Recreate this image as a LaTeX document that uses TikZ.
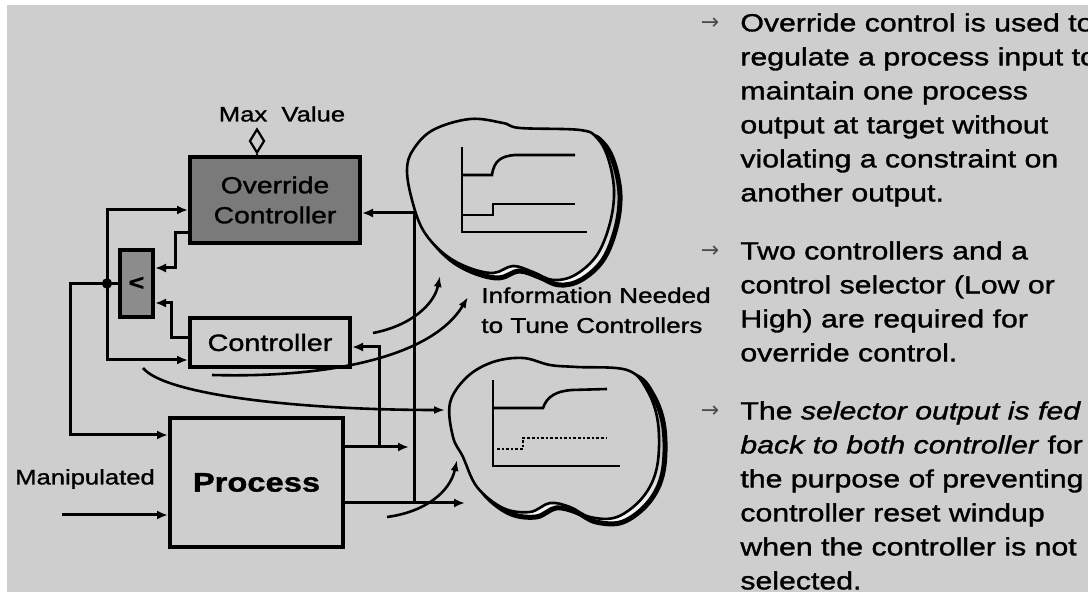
\documentclass[tikz,border=0pt]{standalone}
\usepackage{fontspec}
\setmainfont[FakeStretch=1.22,FakeBold=1.3]{Liberation Sans}
\newfontfamily\symfont{DejaVu Sans}
\usetikzlibrary{arrows.meta,calc,shapes.geometric}
\definecolor{paper}{RGB}{206,206,206}
\definecolor{boxdark}{RGB}{122,122,122}
\definecolor{boxmid}{RGB}{140,140,140}
\definecolor{shade}{RGB}{60,60,60}

% outlines of the two trend clouds
\newcommand{\cloudtop}{plot[smooth cycle,tension=0.6] coordinates {(413,150) (433,130) (470,119) (503,123) (520,128) (580,130) (597,138) (608,158) (614,190) (610,223) (597,255) (575,275) (553,280) (533,272) (513,266) (493,273) (467,267) (443,253) (423,230) (412,200) (407,170)}}
\newcommand{\cloudlow}{plot[smooth cycle,tension=0.6] coordinates {(450,403) (467,377) (493,362) (523,358) (550,365) (577,367) (627,370) (647,390) (658,423) (657,467) (643,497) (617,517) (590,517) (570,507) (550,503) (530,512) (503,508) (477,487) (463,457) (453,437)}}

\begin{document}
\begin{tikzpicture}[x=0.5pt,y=-0.5pt,
    block/.style={draw,line width=2pt,inner sep=0pt,align=center},
    flow/.style={-{Latex[length=5.5pt,width=4.5pt]},line width=1.5pt},
    wire/.style={line width=1.5pt},
    info/.style={-{Latex[length=5.5pt,width=4pt]},line width=1.3pt},
    trend/.style={line width=1.3pt},
    shadow/.style={shade,line width=2.5pt,xshift=3pt,yshift=-2.5pt},
    note/.style={anchor=north west,inner sep=0pt,align=left,font=\fontsize{12.4}{17}\selectfont},
    bullet/.style={text=black!70,font=\symfont\fontsize{11}{11}\selectfont}
  ]
  % page
  \useasboundingbox (0,0) rectangle (1088,592);
  \clip (0,0) rectangle (1088,592);
  \fill[white] (0,0) rectangle (1088,592);
  \fill[paper] (7,5) rectangle (1088,592);

  % clouds with their trends
  \filldraw[shadow] \cloudtop;
  \draw[line width=1.3pt,fill=paper] \cloudtop;
  \filldraw[shadow] \cloudlow;
  \draw[line width=1.3pt,fill=paper] \cloudlow;

  \draw[trend] (462,147) -- (462,232) -- (587,232);
  \draw[trend] (462,175) -- (492,175) .. controls (494,160) and (502,156) .. (515,155) -- (575,155);
  \draw[trend] (462,215) -- (493,215) -- (493,204) -- (575,204);

  \draw[trend] (493,380) -- (493,466) -- (620,466);
  \draw[trend] (493,408) -- (543,408) .. controls (547,396) and (557,391) .. (572,390) -- (607,389);
  \draw[trend,densely dotted] (497,449) -- (523,449) -- (523,438) -- (607,438);

  % blocks
  \node[block,fill=boxdark,minimum width=85pt,minimum height=43pt,font=\fontsize{11.6}{15}\selectfont] (ovr) at (275,200) {Override\\Controller};
  \node[block,fill=boxmid,minimum width=16.5pt,minimum height=33.5pt,font=\bfseries\fontsize{11}{11}\selectfont] (sel) at (136.5,283.5) {<};
  \node[block,minimum width=80pt,minimum height=24.5pt,font=\fontsize{11.8}{14}\selectfont] (ctrl) at (270,342.5) {Controller};
  \node[block,minimum width=86.5pt,minimum height=64.5pt,font=\bfseries\fontsize{13.4}{16}\selectfont] (proc) at (256.5,482.5) {Process};

  % labels
  \node[font=\fontsize{10.5}{12}\selectfont] (maxv) at (282,114) {Max\ \ Value};
  \node[draw,diamond,line width=1.1pt,fill=paper,inner sep=0pt,minimum width=7.5pt,minimum height=12pt] (lim) at (257,141) {};
  \draw[line width=1.1pt] (lim.south) -- (lim.south |- ovr.north);
  \node[font=\fontsize{10.5}{12}\selectfont] (manip) at (85,479) {Manipulated};
  \node[note,font=\fontsize{10.7}{15}\selectfont] (tune) at (481,287) {Information Needed\\to Tune Controllers};

  % junctions and free ends
  \coordinate (dot) at (107,283.5);
  \coordinate (feed) at (70,283.5);
  \coordinate (mv) at (62,515);
  \coordinate (t1) at ($(proc.east)+(34,-35.5)$);
  \coordinate (t2) at ($(proc.east)+(69,20.5)$);

  % selector output back to both controllers and to the process
  \draw[wire] (sel.west) -- (dot);
  \fill (dot) circle (2.6pt);
  \draw[flow] (dot) |- ($(ovr.west)+(0,10)$);
  \draw[flow] (dot) |- ($(ctrl.west)+(0,17.5)$);
  \draw[flow] (dot) -- (feed) |- ($(proc.west)+(0,-47.5)$);
  \draw[flow] (mv) -- (mv -| proc.west);

  % controller outputs into the selector
  \draw[flow] ($(ovr.west)+(0,33)$) -- ++(-13,0) |- ($(sel.east)+(0,-15.5)$);
  \draw[flow] ($(ctrl.west)+(0,-5)$) -- ++(-17,0) |- ($(sel.east)+(0,19.5)$);

  % measured outputs
  \draw[flow] ($(proc.east)+(0,-35.5)$) -- ++(64,0);
  \draw[flow] (t1) |- ($(ctrl.east)+(0,4.5)$);
  \draw[flow] ($(proc.east)+(0,20.5)$) -- ++(120,0);
  \draw[flow] (t2) |- ($(ovr.east)+(0,13)$);

  % information arrows
  \coordinate (ia) at (143,368);
  \coordinate (ea) at (445,410);
  \coordinate (ib) at (373,333);
  \coordinate (eb) at (440,276);
  \coordinate (ic) at (212,375);
  \coordinate (ec) at (468,297);
  \coordinate (id) at (387,517);
  \coordinate (ed) at (457,460);
  \draw[info] (ia) .. controls (165,395) and (300,410) .. (ea);
  \draw[info] (ib) .. controls (410,326) and (434,305) .. (eb);
  \draw[info] (ic) .. controls (320,378) and (430,360) .. (ec);
  \draw[info] (id) .. controls (425,512) and (450,492) .. (ed);

  % bullet notes
  \node[bullet] (b1) at (710,24) {→};
  \node[bullet] (b2) at (710,252) {→};
  \node[bullet] (b3) at (710,412) {→};
  \node[note] (n1) at (740,13) {Override control is used to\\regulate a process input to\\maintain one process\\output at target without\\violating a constraint on\\another output.};
  \node[note] (n2) at (740,241) {Two controllers and a\\control selector (Low or\\High) are required for\\override control.};
  \node[note] (n3) at (740,401) {The \textit{selector output is fed}\\\textit{back to both controller} for\\the purpose of preventing\\controller reset windup\\when the controller is not\\selected.};
\end{tikzpicture}
\end{document}
